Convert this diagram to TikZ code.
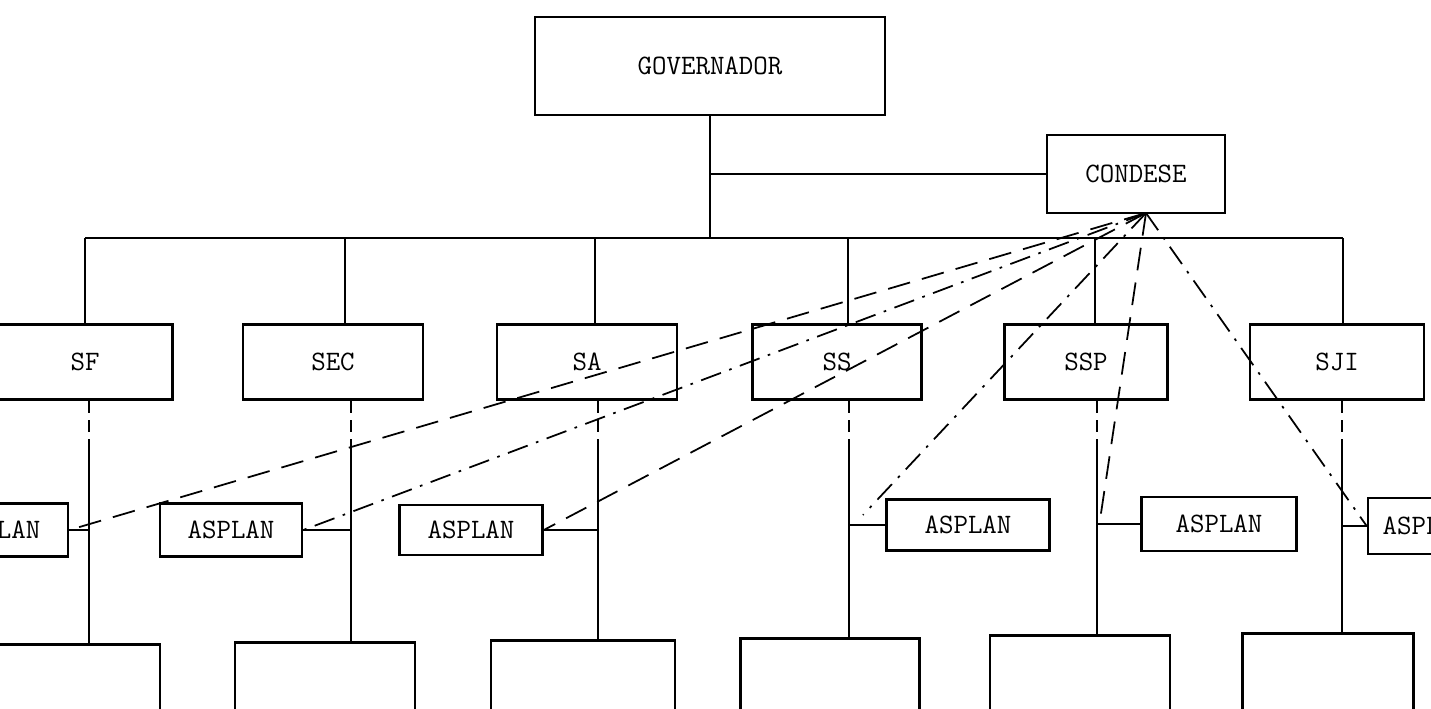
\documentclass[tikz,border=0pt]{standalone}
\usetikzlibrary{positioning}
\usetikzlibrary{calc}

\begin{document}
\begin{tikzpicture}[
            x=0.02cm, y=-0.02cm,
            every node/.style={font=\ttfamily\fontsize{16}{18}\selectfont},
            box style/.style={draw, line width=1.5pt, inner sep=0pt},
            link style/.style={line width=1.1pt},
            long dash style/.style={line width=1pt, dash pattern=on 13pt off 7pt},
            dash dot style/.style={line width=1pt, dash pattern=on 12pt off 5pt on 1.5pt off 5pt},
            short dash style/.style={line width=1.1pt, dash pattern=on 7pt off 4pt}
        ]

        \useasboundingbox (0,0) rectangle (1431,708);
        \clip (0,0) rectangle (1431,708);

        % top
        \node (gov) [box style, minimum width=7cm, minimum height=1.96cm] at (710,66) {GOVERNADOR};
        \node (condese) [box style, minimum width=3.56cm, minimum height=1.56cm] at (1136,174) {CONDESE};

        % secretarias
        \node (sf) [box style, minimum width=3.5cm, minimum height=1.5cm] at (85,362) {SF};
        \node (sec) [box style, minimum width=3.6cm, minimum height=1.5cm] at (333,362) {SEC};
        \node (sa) [box style, minimum width=3.6cm, minimum height=1.5cm] at (587,362) {SA};
        \node (ss) [box style, minimum width=3.38cm, minimum height=1.5cm] at (837,362) {SS};
        \node (ssp) [box style, minimum width=3.26cm, minimum height=1.5cm] at (1086,362) {SSP};
        \node (sji) [box style, minimum width=3.48cm, minimum height=1.5cm] at (1337,362) {SJI};

        % asplan
        \node (a1) [box style, minimum width=2.84cm, minimum height=1.06cm] at (-3,530) {ASPLAN};
        \node (a2) [box style, minimum width=2.84cm, minimum height=1.06cm] at (231,530) {ASPLAN};
        \node (a3) [box style, minimum width=2.86cm, minimum height=1.0cm] at (471,530) {ASPLAN};
        \node (a4) [box style, minimum width=3.26cm, minimum height=1.02cm] at (968,525) {ASPLAN};
        \node (a5) [box style, minimum width=3.1cm, minimum height=1.08cm] at (1219,524) {ASPLAN};
        \node (a6) [box style, minimum width=2.32cm, minimum height=1.12cm] at (1426,526) {ASPLAN};

        % bottom row
        \node (r1) [box style, anchor=north, minimum width=3.6cm, minimum height=2cm] at (70,643) {};
        \node (r2) [box style, anchor=north, minimum width=3.6cm, minimum height=2cm] at (325,641) {};
        \node (r3) [box style, anchor=north, minimum width=3.68cm, minimum height=2cm] at (583,639) {};
        \node (r4) [box style, anchor=north, minimum width=3.58cm, minimum height=2cm] at (830,637) {};
        \node (r5) [box style, anchor=north, minimum width=3.6cm, minimum height=2cm] at (1080,634) {};
        \node (r6) [box style, anchor=north, minimum width=3.42cm, minimum height=2cm] at (1328,632) {};

        \foreach \i/\x/\y in {1/85/89, 2/345/351, 3/595/598, 4/848/849, 5/1095/1097, 6/1343/1342} {
            \coordinate (b\i) at (\x,238);
            \coordinate (m\i) at (\y,447);
        }
        \coordinate (fan) at (1146,213);
        \coordinate (e4) at (863,515);
        \coordinate (e5) at (1100,520);

        \draw[link style] (gov.south) -- (gov.south |- b1);
        \draw[link style] (condese.west) -- (condese.west -| gov.south);
        \draw[link style] (b1) -- (b6);

        \foreach \i/\n in {1/sf, 2/sec, 3/sa, 4/ss, 5/ssp, 6/sji} {
            \draw[link style] (b\i) -- (b\i |- \n.north);
            \draw[short dash style] (m\i |- \n.south) -- (m\i);
            \draw[link style] (m\i) -- (m\i |- r\i.north);
        }

        \draw[link style] (a1.east) -- (a1.east -| m1);
        \draw[link style] (a2.east) -- (a2.east -| m2);
        \draw[link style] (a3.east) -- (a3.east -| m3);
        \draw[link style] (a4.west) -- (a4.west -| m4);
        \draw[link style] (a5.west) -- (a5.west -| m5);
        \draw[link style] (a6.west) -- (a6.west -| m6);

        \draw[long dash style] (fan) -- (a1.east);
        \draw[dash dot style] (fan) -- (a2.east);
        \draw[long dash style] (fan) -- (a3.east);
        \draw[dash dot style] (fan) -- (e4);
        \draw[long dash style] (fan) -- (e5);
        \draw[dash dot style] (fan) -- (a6.west);
        \end{tikzpicture}
\end{document}
